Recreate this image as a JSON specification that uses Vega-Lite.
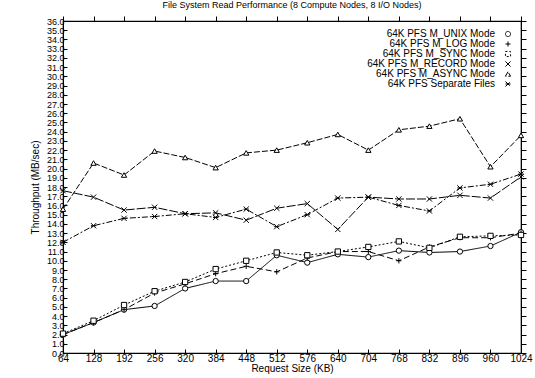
{
  "$schema": "https://vega.github.io/schema/vega-lite/v6.json",
  "width": 458,
  "height": 332,
  "autosize": {"type": "none"},
  "padding": {"left": 63, "top": 21, "right": 14, "bottom": 25},
  "background": "white",
  "title": {"text": "File System Read Performance (8 Compute Nodes, 8 I/O Nodes)", "fontSize": 9, "font": "Liberation Sans", "fontWeight": "normal", "offset": 6, "color": "black"},
  "config": {
    "view": {"stroke": "black", "strokeWidth": 1.2},
    "font": "Liberation Sans",
    "axis": {"grid": false, "domainColor": "black", "tickColor": "black", "labelColor": "black", "titleColor": "black", "labelFontSize": 9, "titleFontSize": 10, "titleFontWeight": "normal", "tickSize": 4, "tickWidth": 1},
    "legend": {"orient": "top-right", "offset": 8, "labelFontSize": 10, "labelColor": "black", "rowPadding": 0, "symbolSize": 26, "symbolStrokeWidth": 1, "labelAlign": "right", "labelOffset": -18}
  },
  "resolve": {"axis": {"x": "independent", "y": "independent"}},
  "data": {"values": [
    {"size": 64, "series": "64K PFS M_UNIX Mode", "mbps": 2.0},
    {"size": 128, "series": "64K PFS M_UNIX Mode", "mbps": 3.3},
    {"size": 192, "series": "64K PFS M_UNIX Mode", "mbps": 4.7},
    {"size": 256, "series": "64K PFS M_UNIX Mode", "mbps": 5.1},
    {"size": 320, "series": "64K PFS M_UNIX Mode", "mbps": 7.0},
    {"size": 384, "series": "64K PFS M_UNIX Mode", "mbps": 7.8},
    {"size": 448, "series": "64K PFS M_UNIX Mode", "mbps": 7.8},
    {"size": 512, "series": "64K PFS M_UNIX Mode", "mbps": 10.6},
    {"size": 576, "series": "64K PFS M_UNIX Mode", "mbps": 9.8},
    {"size": 640, "series": "64K PFS M_UNIX Mode", "mbps": 10.7},
    {"size": 704, "series": "64K PFS M_UNIX Mode", "mbps": 10.4},
    {"size": 768, "series": "64K PFS M_UNIX Mode", "mbps": 11.1},
    {"size": 832, "series": "64K PFS M_UNIX Mode", "mbps": 10.9},
    {"size": 896, "series": "64K PFS M_UNIX Mode", "mbps": 11.0},
    {"size": 960, "series": "64K PFS M_UNIX Mode", "mbps": 11.6},
    {"size": 1024, "series": "64K PFS M_UNIX Mode", "mbps": 13.1},
    {"size": 64, "series": "64K PFS M_LOG Mode", "mbps": 2.0},
    {"size": 128, "series": "64K PFS M_LOG Mode", "mbps": 3.3},
    {"size": 192, "series": "64K PFS M_LOG Mode", "mbps": 4.7},
    {"size": 256, "series": "64K PFS M_LOG Mode", "mbps": 6.5},
    {"size": 320, "series": "64K PFS M_LOG Mode", "mbps": 7.5},
    {"size": 384, "series": "64K PFS M_LOG Mode", "mbps": 8.6},
    {"size": 448, "series": "64K PFS M_LOG Mode", "mbps": 9.4},
    {"size": 512, "series": "64K PFS M_LOG Mode", "mbps": 8.8},
    {"size": 576, "series": "64K PFS M_LOG Mode", "mbps": 10.3},
    {"size": 640, "series": "64K PFS M_LOG Mode", "mbps": 11.0},
    {"size": 704, "series": "64K PFS M_LOG Mode", "mbps": 11.0},
    {"size": 768, "series": "64K PFS M_LOG Mode", "mbps": 10.0},
    {"size": 832, "series": "64K PFS M_LOG Mode", "mbps": 11.5},
    {"size": 896, "series": "64K PFS M_LOG Mode", "mbps": 12.5},
    {"size": 960, "series": "64K PFS M_LOG Mode", "mbps": 12.5},
    {"size": 1024, "series": "64K PFS M_LOG Mode", "mbps": 13.0},
    {"size": 64, "series": "64K PFS M_SYNC Mode", "mbps": 2.1},
    {"size": 128, "series": "64K PFS M_SYNC Mode", "mbps": 3.5},
    {"size": 192, "series": "64K PFS M_SYNC Mode", "mbps": 5.2},
    {"size": 256, "series": "64K PFS M_SYNC Mode", "mbps": 6.7},
    {"size": 320, "series": "64K PFS M_SYNC Mode", "mbps": 7.7},
    {"size": 384, "series": "64K PFS M_SYNC Mode", "mbps": 9.1},
    {"size": 448, "series": "64K PFS M_SYNC Mode", "mbps": 10.0},
    {"size": 512, "series": "64K PFS M_SYNC Mode", "mbps": 10.9},
    {"size": 576, "series": "64K PFS M_SYNC Mode", "mbps": 10.6},
    {"size": 640, "series": "64K PFS M_SYNC Mode", "mbps": 11.0},
    {"size": 704, "series": "64K PFS M_SYNC Mode", "mbps": 11.5},
    {"size": 768, "series": "64K PFS M_SYNC Mode", "mbps": 12.1},
    {"size": 832, "series": "64K PFS M_SYNC Mode", "mbps": 11.4},
    {"size": 896, "series": "64K PFS M_SYNC Mode", "mbps": 12.6},
    {"size": 960, "series": "64K PFS M_SYNC Mode", "mbps": 12.7},
    {"size": 1024, "series": "64K PFS M_SYNC Mode", "mbps": 12.8},
    {"size": 64, "series": "64K PFS M_RECORD Mode", "mbps": 17.6},
    {"size": 128, "series": "64K PFS M_RECORD Mode", "mbps": 16.9},
    {"size": 192, "series": "64K PFS M_RECORD Mode", "mbps": 15.5},
    {"size": 256, "series": "64K PFS M_RECORD Mode", "mbps": 15.8},
    {"size": 320, "series": "64K PFS M_RECORD Mode", "mbps": 15.1},
    {"size": 384, "series": "64K PFS M_RECORD Mode", "mbps": 15.2},
    {"size": 448, "series": "64K PFS M_RECORD Mode", "mbps": 14.4},
    {"size": 512, "series": "64K PFS M_RECORD Mode", "mbps": 15.7},
    {"size": 576, "series": "64K PFS M_RECORD Mode", "mbps": 16.2},
    {"size": 640, "series": "64K PFS M_RECORD Mode", "mbps": 13.4},
    {"size": 704, "series": "64K PFS M_RECORD Mode", "mbps": 16.9},
    {"size": 768, "series": "64K PFS M_RECORD Mode", "mbps": 16.7},
    {"size": 832, "series": "64K PFS M_RECORD Mode", "mbps": 16.7},
    {"size": 896, "series": "64K PFS M_RECORD Mode", "mbps": 17.1},
    {"size": 960, "series": "64K PFS M_RECORD Mode", "mbps": 16.8},
    {"size": 1024, "series": "64K PFS M_RECORD Mode", "mbps": 19.1},
    {"size": 64, "series": "64K PFS M_ASYNC Mode", "mbps": 15.6},
    {"size": 128, "series": "64K PFS M_ASYNC Mode", "mbps": 20.6},
    {"size": 192, "series": "64K PFS M_ASYNC Mode", "mbps": 19.3},
    {"size": 256, "series": "64K PFS M_ASYNC Mode", "mbps": 21.9},
    {"size": 320, "series": "64K PFS M_ASYNC Mode", "mbps": 21.2},
    {"size": 384, "series": "64K PFS M_ASYNC Mode", "mbps": 20.1},
    {"size": 448, "series": "64K PFS M_ASYNC Mode", "mbps": 21.7},
    {"size": 512, "series": "64K PFS M_ASYNC Mode", "mbps": 22.0},
    {"size": 576, "series": "64K PFS M_ASYNC Mode", "mbps": 22.8},
    {"size": 640, "series": "64K PFS M_ASYNC Mode", "mbps": 23.7},
    {"size": 704, "series": "64K PFS M_ASYNC Mode", "mbps": 22.0},
    {"size": 768, "series": "64K PFS M_ASYNC Mode", "mbps": 24.2},
    {"size": 832, "series": "64K PFS M_ASYNC Mode", "mbps": 24.6},
    {"size": 896, "series": "64K PFS M_ASYNC Mode", "mbps": 25.4},
    {"size": 960, "series": "64K PFS M_ASYNC Mode", "mbps": 20.2},
    {"size": 1024, "series": "64K PFS M_ASYNC Mode", "mbps": 23.6},
    {"size": 64, "series": "64K PFS Separate Files", "mbps": 12.0},
    {"size": 128, "series": "64K PFS Separate Files", "mbps": 13.8},
    {"size": 192, "series": "64K PFS Separate Files", "mbps": 14.6},
    {"size": 256, "series": "64K PFS Separate Files", "mbps": 14.8},
    {"size": 320, "series": "64K PFS Separate Files", "mbps": 15.1},
    {"size": 384, "series": "64K PFS Separate Files", "mbps": 14.7},
    {"size": 448, "series": "64K PFS Separate Files", "mbps": 15.6},
    {"size": 512, "series": "64K PFS Separate Files", "mbps": 13.7},
    {"size": 576, "series": "64K PFS Separate Files", "mbps": 15.0},
    {"size": 640, "series": "64K PFS Separate Files", "mbps": 16.8},
    {"size": 704, "series": "64K PFS Separate Files", "mbps": 16.9},
    {"size": 768, "series": "64K PFS Separate Files", "mbps": 16.0},
    {"size": 832, "series": "64K PFS Separate Files", "mbps": 15.4},
    {"size": 896, "series": "64K PFS Separate Files", "mbps": 17.9},
    {"size": 960, "series": "64K PFS Separate Files", "mbps": 18.3},
    {"size": 1024, "series": "64K PFS Separate Files", "mbps": 19.4}
  ]},
  "layer": [
    {
      "mark": {"type": "line", "color": "black", "strokeWidth": 1},
      "encoding": {
        "x": {"field": "size", "type": "quantitative", "scale": {"domain": [64, 1024], "nice": false, "zero": false}, "axis": {"values": [64,128,192,256,320,384,448,512,576,640,704,768,832,896,960,1024], "format": "d", "title": "Request Size (KB)", "titlePadding": 0, "labelPadding": 4, "tickSize": -4, "labelOverlap": false, "labelFlush": false, "labelFontSize": 10}},
        "y": {"field": "mbps", "type": "quantitative", "scale": {"domain": [0, 36], "nice": false}, "axis": {"values": [0,1,2,3,4,5,6,7,8,9,10,11,12,13,14,15,16,17,18,19,20,21,22,23,24,25,26,27,28,29,30,31,32,33,34,35,36], "format": ".1f", "title": "Throughput (MB/sec)", "labelOverlap": false, "labelFlush": false, "tickSize": -4, "labelPadding": 3, "titlePadding": 6}},
        "strokeDash": {"field": "series", "type": "nominal", "title": null, "scale": {"domain": ["64K PFS M_UNIX Mode", "64K PFS M_LOG Mode", "64K PFS M_SYNC Mode", "64K PFS M_RECORD Mode", "64K PFS M_ASYNC Mode", "64K PFS Separate Files"], "range": [[1,0],[6,3],[2,2],[9,2],[6,2],[6,2,2,2]]}}
      }
    },
    {
      "mark": {"type": "point", "filled": true, "fill": "white", "stroke": "black", "strokeWidth": 1, "size": 28, "opacity": 1},
      "encoding": {
        "x": {"field": "size", "type": "quantitative", "axis": {"orient": "top", "values": [64,128,192,256,320,384,448,512,576,640,704,768,832,896,960,1024], "labels": false, "ticks": true, "title": null, "domain": true, "domainColor": "black", "tickSize": 5, "tickColor": "black"}},
        "y": {"field": "mbps", "type": "quantitative", "axis": {"orient": "right", "values": [0,1,2,3,4,5,6,7,8,9,10,11,12,13,14,15,16,17,18,19,20,21,22,23,24,25,26,27,28,29,30,31,32,33,34,35,36], "labels": false, "ticks": true, "title": null, "domain": true, "tickSize": 5, "tickColor": "black"}},
        "shape": {"field": "series", "type": "nominal", "title": null, "scale": {"domain": ["64K PFS M_UNIX Mode", "64K PFS M_LOG Mode", "64K PFS M_SYNC Mode", "64K PFS M_RECORD Mode", "64K PFS M_ASYNC Mode", "64K PFS Separate Files"], "range": ["circle", "M-1,0L1,0M0,-1L0,1", "square", "M-1,-1L1,1M-1,1L1,-1", "triangle-up", "M-1,-1L1,1M-1,1L1,-1M-1,0L1,0"]},
          "legend": {"symbolStrokeColor": "black", "symbolFillColor": "white", "encode": {"symbols": {"update": {"stroke": {"value": "black"}, "fill": {"value": "white"}, "strokeWidth": {"value": 1}, "opacity": {"value": 1}}}}}}
      }
    }
  ]
}
